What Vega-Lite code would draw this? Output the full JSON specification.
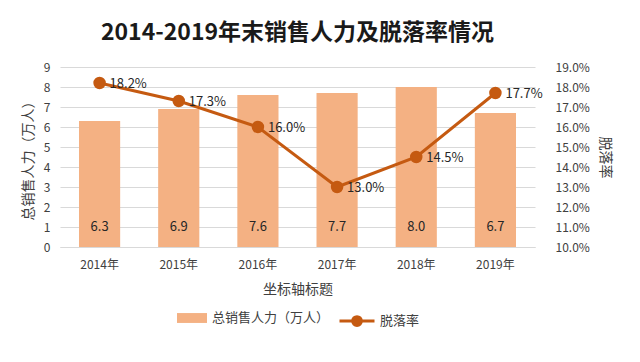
{
  "$schema": "https://vega.github.io/schema/vega-lite/v6.json",
  "width": 640,
  "height": 362,
  "autosize": {"type": "fit", "contains": "padding"},
  "padding": {"left": 21, "right": 28, "top": 22, "bottom": 30},
  "background": "white",
  "title": {
    "text": "2014-2019年末销售人力及脱落率情况",
    "font": "Noto Sans CJK SC",
    "fontSize": 23,
    "fontWeight": "bold",
    "color": "#1a1a1a",
    "anchor": "middle",
    "offset": 16
  },
  "config": {
    "font": "Noto Sans CJK SC",
    "view": {"stroke": null},
    "axis": {"labelColor": "#404040", "titleColor": "#404040", "labelFontSize": 12, "titleFontSize": 13, "titleFontWeight": "normal", "labelOverlap": false},
    "legend": {"labelFontSize": 13, "labelColor": "#404040", "offset": 6, "layout": {"bottom": {"anchor": "middle"}}}
  },
  "data": {
    "values": [
      {"year": "2014年", "people": 6.3, "rate": 0.182},
      {"year": "2015年", "people": 6.9, "rate": 0.173},
      {"year": "2016年", "people": 7.6, "rate": 0.160},
      {"year": "2017年", "people": 7.7, "rate": 0.130},
      {"year": "2018年", "people": 8.0, "rate": 0.145},
      {"year": "2019年", "people": 6.7, "rate": 0.177}
    ]
  },
  "encoding": {
    "x": {
      "field": "year",
      "type": "nominal",
      "sort": null,
      "scale": {"paddingInner": 0.48, "paddingOuter": 0.24},
      "axis": {"title": "坐标轴标题", "labelAngle": 0, "ticks": false, "domainColor": "#d9d9d9", "labelPadding": 12, "titlePadding": 12, "titleFontSize": 14}
    }
  },
  "layer": [
    {
      "layer": [
        {
          "mark": {"type": "bar"},
          "encoding": {
            "y": {
              "field": "people",
              "type": "quantitative",
              "scale": {"domain": [0, 9]},
              "axis": {"title": "总销售人力（万人）", "values": [0,1,2,3,4,5,6,7,8,9], "domain": false, "ticks": false, "gridColor": "#d9d9d9", "labelPadding": 10, "titlePadding": 8, "titleFontSize": 14}
            },
            "fill": {"datum": "总销售人力（万人）", "type": "nominal", "scale": {"range": ["#F4B183"]}, "legend": {"title": null, "orient": "bottom", "symbolType": "M-1,-0.33H1V0.33H-1Z", "symbolSize": 900}}
          }
        },
        {
          "mark": {"type": "text", "fontSize": 13, "color": "#262626", "baseline": "middle", "dy": -20},
          "encoding": {
            "y": {"datum": 0, "type": "quantitative", "scale": {"domain": [0, 9]},
              "axis": {"title": "总销售人力（万人）", "values": [0,1,2,3,4,5,6,7,8,9], "domain": false, "ticks": false, "gridColor": "#d9d9d9", "labelPadding": 10, "titlePadding": 8, "titleFontSize": 14}},
            "text": {"field": "people", "type": "quantitative", "format": ".1f"}
          }
        }
      ]
    },
    {
      "layer": [
        {
          "mark": {"type": "line", "color": "#C55A11", "strokeWidth": 3, "point": {"filled": true, "size": 110, "color": "#C55A11"}},
          "encoding": {
            "y": {
              "field": "rate",
              "type": "quantitative",
              "scale": {"domain": [0.10, 0.19]},
              "axis": {"title": "脱落率", "orient": "right", "format": ".1%", "values": [0.10,0.11,0.12,0.13,0.14,0.15,0.16,0.17,0.18,0.19], "grid": false, "domain": false, "ticks": false, "labelPadding": 20, "titlePadding": 8, "titleFontSize": 14, "titleAngle": 90}
            },
            "stroke": {"datum": "脱落率", "type": "nominal", "scale": {"range": ["#C55A11"]}, "legend": {"title": null, "orient": "bottom", "symbolType": "M-1,0H1M0.25,0A0.25,0.25 0 1,1 -0.25,0A0.25,0.25 0 1,1 0.25,0Z", "symbolStrokeWidth": 3, "symbolSize": 1225, "symbolFillColor": "#C55A11"}}
          }
        },
        {
          "mark": {"type": "text", "fontSize": 13, "color": "#262626", "align": "left", "baseline": "middle", "dx": 10, "dy": 1},
          "encoding": {
            "y": {"field": "rate", "type": "quantitative", "scale": {"domain": [0.10, 0.19]},
              "axis": {"title": "脱落率", "orient": "right", "format": ".1%", "values": [0.10,0.11,0.12,0.13,0.14,0.15,0.16,0.17,0.18,0.19], "grid": false, "domain": false, "ticks": false, "labelPadding": 20, "titlePadding": 8, "titleFontSize": 14, "titleAngle": 90}},
            "text": {"field": "rate", "type": "quantitative", "format": ".1%"}
          }
        }
      ]
    }
  ],
  "resolve": {"scale": {"y": "independent"}}
}
